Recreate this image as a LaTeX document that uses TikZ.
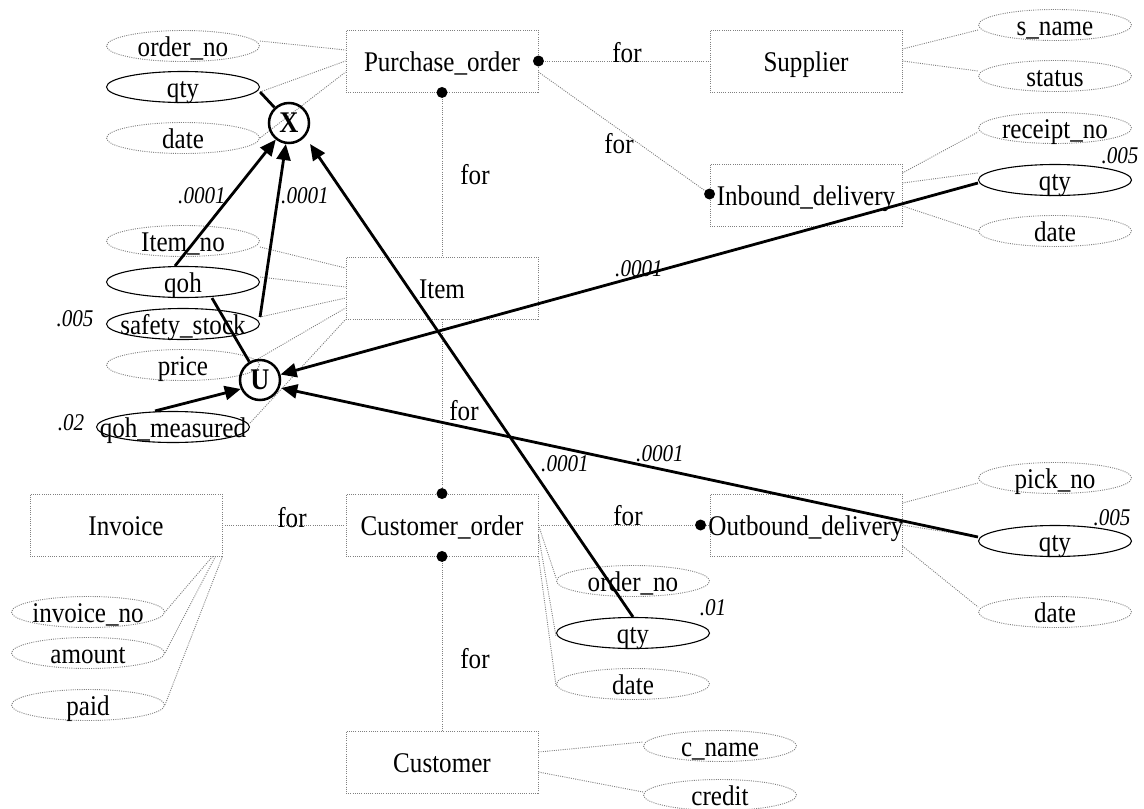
\documentclass[tikz,border=0pt]{standalone}
\usepackage{fontspec}
\setmainfont[FakeStretch=0.88]{Liberation Serif}
\usetikzlibrary{shapes.geometric,arrows.meta,calc}

% an outlined shape with its caption set on a fixed baseline
\newcommand{\ernode}[4]{%
  \node[#1] (#2) at (#3) {};
  \node[txt] (#2-t) at (#2.center) {#4};}

\begin{document}
\begin{tikzpicture}[x=1pt,y=1pt,
  font=\fontsize{28.5}{31}\selectfont,
  conn/.style={draw=black!50, line width=0.9pt, dash pattern=on 1pt off 1.2pt},
  entity/.style={rectangle, conn, minimum width=192pt, minimum height=62pt, inner sep=0pt},
  attr/.style={ellipse, conn, minimum width=153pt, minimum height=31pt, inner sep=0pt},
  keyattr/.style={attr, draw=black, solid, line width=1.1pt},
  txt/.style={anchor=base, yshift=-10pt, inner sep=0pt},
  rel/.style={anchor=base, inner sep=0pt},
  dot/.style={circle, fill=black, minimum size=11pt, inner sep=0pt},
  op/.style={circle, draw=black, line width=2.5pt, minimum size=40pt, inner sep=0pt,
    font=\fontsize{30}{32}\selectfont\bfseries},
  num/.style={inner sep=0pt, font=\fontsize{24}{26}\selectfont\itshape},
  flow/.style={line width=2.8pt, -{Triangle[length=16pt,width=14pt]}},
  link/.style={line width=2.8pt}
]
\useasboundingbox (0,0) rectangle (1144,-809);

% entities
\ernode{entity}{po}{442,-61}{Purchase\_order}
\ernode{entity}{sup}{806,-61}{Supplier}
\ernode{entity}{inb}{806,-195}{Inbound\_delivery}
\ernode{entity}{item}{442,-288}{Item}
\ernode{entity}{inv}{126,-525}{Invoice}
\ernode{entity}{co}{442,-525}{Customer\_order}
\ernode{entity}{outb}{806,-525}{Outbound\_delivery}
\ernode{entity}{cust}{442,-762}{Customer}

% attributes of Purchase_order
\ernode{attr}{on}{183,-46}{order\_no}
\ernode{keyattr}{pqty}{183,-87}{qty}
\ernode{attr}{pdate}{183,-138}{date}
% attributes of Item
\ernode{attr}{ino}{183,-241}{Item\_no}
\ernode{keyattr}{qoh}{183,-282}{qoh}
\ernode{keyattr}{ss}{183,-324}{safety\_stock}
\ernode{attr}{price}{183,-365}{price}
\ernode{keyattr}{qm}{173,-427}{qoh\_measured}
% attributes of Supplier
\ernode{attr}{sname}{1055,-25}{s\_name}
\ernode{attr}{status}{1055,-76}{status}
% attributes of Inbound_delivery
\ernode{attr}{rno}{1055,-128}{receipt\_no}
\ernode{keyattr}{iqty}{1055,-180}{qty}
\ernode{attr}{idate}{1055,-231}{date}
% attributes of Outbound_delivery
\ernode{attr}{pno}{1055,-478}{pick\_no}
\ernode{keyattr}{oqty}{1055,-541}{qty}
\ernode{attr}{odate}{1055,-612}{date}
% attributes of Customer_order
\ernode{attr}{cono}{633,-581}{order\_no}
\ernode{keyattr}{cqty}{633,-633}{qty}
\ernode{attr}{cdate}{633,-684}{date}
% attributes of Invoice
\ernode{attr}{invno}{88,-612}{invoice\_no}
\ernode{attr}{amt}{88,-653}{amount}
\ernode{attr}{paid}{88,-705}{paid}
% attributes of Customer
\ernode{attr}{cname}{720,-746}{c\_name}
\ernode{attr}{credit}{720,-795}{credit}

% attribute links
\draw[conn] ([yshift=5pt]on.east) -- ([yshift=11pt]po.west);
\draw[conn] ([yshift=-5pt]pqty.east) -- (po.west);
\draw[conn] (pdate.east) -- ([yshift=-11pt]po.west);

\draw[conn] ([yshift=-6pt]ino.east) -- ([yshift=20pt]item.west);
\draw[conn] ([yshift=5pt]qoh.east) -- ([yshift=1pt]item.west);
\draw[conn] ([yshift=7pt]ss.east) -- ([yshift=-10pt]item.west);
\draw[conn] ([xshift=-4pt,yshift=5pt]price.east) -- ([yshift=-20pt]item.west);
\draw[conn] ([yshift=4pt]qm.east) -- (item.south west);

\draw[conn] ([yshift=12pt]sup.east) -- ([yshift=-5pt]sname.west);
\draw[conn] (sup.east) -- ([yshift=5pt]status.west);

\draw[conn] ([yshift=22pt]inb.east) -- ([yshift=-4pt]rno.west);
\draw[conn] ([yshift=12pt]inb.east) -- ([yshift=7pt]iqty.west);
\draw[conn] ([yshift=-11pt]inb.east) -- (idate.west);

\draw[conn] ([yshift=22pt]outb.east) -- ([yshift=-5pt]pno.west);
\draw[conn] (outb.east) -- ([yshift=4pt]oqty.west);
\draw[conn] ([yshift=-21pt]outb.east) -- ([yshift=5pt]odate.west);

\draw[conn] (co.east) -- ([yshift=3pt]cono.west);
\draw[conn] ([yshift=-10pt]co.east) -- ([yshift=-3pt]cqty.west);
\draw[conn] (co.south east) -- ([yshift=-2pt]cdate.west);

\draw[conn] ([xshift=-10pt]inv.south east) -- (invno.east);
\draw[conn] ([xshift=-7pt]inv.south east) -- (amt.east);
\draw[conn] (inv.south east) -- (paid.east);

\draw[conn] ([yshift=10pt]cust.east) -- ([yshift=4pt]cname.west);
\draw[conn] ([yshift=-10pt]cust.east) -- ([yshift=3pt]credit.west);

% relationships
\draw[conn] (po.east) -- (sup.west);
\draw[conn] ([yshift=-11pt]po.east) -- ([yshift=1pt]inb.west);
\draw[conn] (po.south) -- (item.north);
\draw[conn] (item.south) -- (co.north);
\draw[conn] (inv.east) -- (co.west);
\draw[conn] (co.east) -- (outb.west);
\draw[conn] (co.south) -- (cust.north);

\node[dot] (k1) at (po.east) {};
\node[dot] (k2) at (po.south) {};
\node[dot] (k3) at ([yshift=1pt]inb.west) {};
\node[dot] (k4) at (co.north) {};
\node[dot] (k5) at (co.south) {};
\node[dot] (k6) at ([xshift=-9pt]outb.west) {};

\node[rel] (r1) at (627,-62) {for};
\node[rel] (r2) at (619,-153) {for};
\node[rel] (r3) at (475,-184) {for};
\node[rel] (r4) at (464,-420) {for};
\node[rel] (r5) at (292,-527) {for};
\node[rel] (r6) at (628,-525) {for};
\node[rel] (r7) at (475,-668) {for};

% operators
\node[op] (X) at (289,-123) {X};
\node[op] (U) at (260,-380) {U};

% quantity flows
\draw[link] ([yshift=-5pt]pqty.east) -- (X);
\draw[flow] ([xshift=-8pt]qoh.north) -- (X);
\draw[flow] ([yshift=7pt]ss.east) -- (X);
\draw[flow] (cqty.north) -- ([shift={(6pt,-6pt)}]X.-45);
\draw[link] ([xshift=29pt]qoh.south) -- (U);
\draw[flow] ([xshift=-18pt]qm.north) -- (U.-155);
\draw[flow] ([yshift=-3pt]iqty.west) -- (U.15);
\draw[flow] ([yshift=4pt]oqty.west) -- ([yshift=-8pt]U.east);

% rates
\node[num] (n1) at (202,-196) {.0001};
\node[num] (n2) at (305,-196) {.0001};
\node[num] (n3) at (75,-319) {.005};
\node[num] (n4) at (71,-423) {.02};
\node[num] (n5) at (639,-269) {.0001};
\node[num] (n6) at (660,-454) {.0001};
\node[num] (n7) at (565,-464) {.0001};
\node[num] (n8) at (1120,-156) {.005};
\node[num] (n9) at (1112,-518) {.005};
\node[num] (n10) at (713,-608) {.01};
\end{tikzpicture}
\end{document}
